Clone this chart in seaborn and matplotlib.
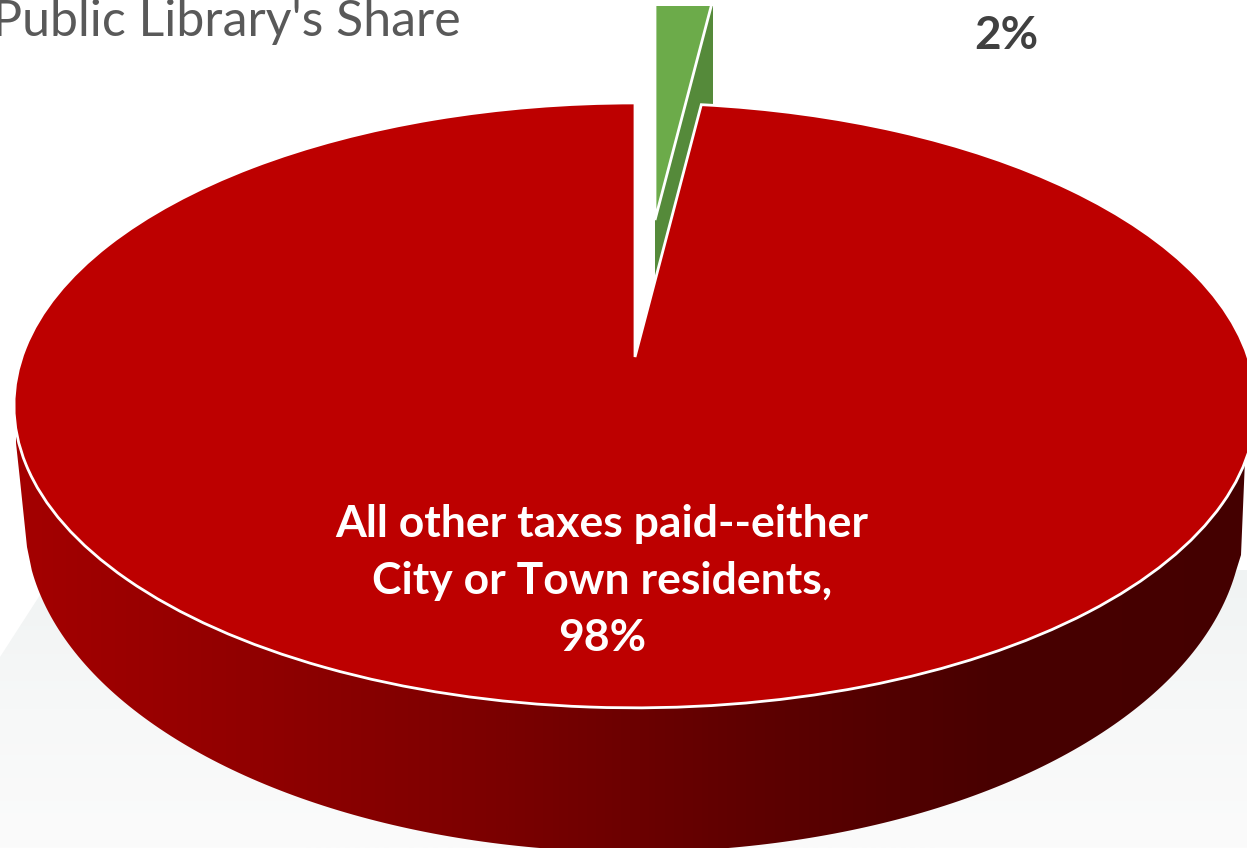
import numpy as np
import matplotlib
matplotlib.use("Agg")
import matplotlib.pyplot as plt
from matplotlib.patches import Polygon, Rectangle
from matplotlib.transforms import Affine2D, Transform
import seaborn as sns

# values
categories = ["Public Library", "All other taxes paid--either\nCity or Town residents,"]
shares = [2, 98]
title = "Public Library's Share"

colors = ["#6cab4a", "#bd0000"]
dark_green = "#558a3a"
wall_colors = ["#a40000", "#900000", "#7a0000", "#5e0000", "#480000", "#440000"]
floor_colors = ["#f0f3f3", "#f7f8f8", "#fbfbfb"]


class Tilt(Transform):
    # unit circle of the pie -> picture pixels, with the perspective of the disc
    input_dims = 2
    output_dims = 2
    is_separable = False
    has_inverse = False

    def transform_non_affine(self, values):
        values = np.asarray(values, dtype=float)
        u, v = values[:, 0], values[:, 1]
        w = 1 + 0.16 * v
        return np.column_stack([635 + 613 * u / w, 357 - 294.7 * v / w])


W, H = 1247, 848
tilt = Tilt()
lift = (20, -137)  # how far the small slice is pulled out

sns.set_theme(style="white")
plt.rcParams["font.family"] = ["Lato", "DejaVu Sans"]

fig = plt.figure(figsize=(W / 100, H / 100), dpi=100, facecolor="white")
ax = fig.add_axes([0, 0, 1, 1])

wedges, _ = ax.pie(shares, colors=colors, startangle=90, counterclock=False,
                   wedgeprops={"edgecolor": "white", "linewidth": 2})

ax.set_aspect("auto")
ax.set_xticks([])
ax.set_yticks([])
ax.set_frame_on(False)

# pale floor behind the disc
floor_cmap = sns.blend_palette(floor_colors, as_cmap=True)
floor = ax.imshow(np.linspace(0, 1, 256).reshape(-1, 1), cmap=floor_cmap, aspect="auto",
                  extent=(0, W, H, 570), zorder=0)
ax.set_xlim(0, W)
ax.set_ylim(H, 0)
floor.set_clip_path(Polygon([(40, 595), (0, 657), (0, H), (W, H), (W, 565), (1225, 565)],
                            transform=ax.transData))

# side wall of the disc, darker to the right
t = np.linspace(np.pi - 0.15, 0.15, 200)
outline = np.column_stack([634 + 609 * np.cos(t), 521 + 331 * np.sin(t)])
outline = np.vstack([[(16, 405), (16, 443), (20, 480), (27, 547)], outline,
                     [(1241, 555), (1245, 460), (1245, 405)]])
wall_cmap = sns.blend_palette(wall_colors, as_cmap=True)
wall = ax.imshow(np.linspace(0, 1, 512).reshape(1, -1), cmap=wall_cmap, aspect="auto",
                 extent=(14, W, H, 400), zorder=1)
wall.set_clip_path(Polygon(outline, transform=ax.transData))
ax.set_xlim(0, W)
ax.set_ylim(H, 0)

# cut face of the pulled out slice
angle = np.deg2rad(shares[0] / sum(shares) * 360)
inner, rim = tilt.transform(np.array([[0, 0], [np.sin(angle), np.cos(angle)]])) + lift
depth = 135
face = Polygon([inner, rim, rim + (0, depth), inner + (0, depth)], closed=True,
               facecolor=dark_green, edgecolor="none", zorder=2)
ax.add_patch(face)
slice_box = Rectangle((654, 6), 59, 320, transform=ax.transData)
face.set_clip_path(slice_box)

# top faces
wedges[0].set_transform(tilt + Affine2D().translate(*lift) + ax.transData)
wedges[0].set_zorder(3)
wedges[0].set_clip_on(True)
wedges[0].set_clip_path(slice_box)

wedges[1].set_transform(tilt + ax.transData)
wedges[1].set_zorder(4)

ax.text(602, 581, f"{categories[1]}\n{shares[1]}%", color="white", fontweight="bold",
        fontsize=32, ha="center", va="center", linespacing=1.52, zorder=5)
ax.text(1006, 36, f"{shares[0]}%", color="#404040", fontweight="bold",
        fontsize=33, ha="center", va="center", zorder=5)
ax.text(-8, 36, title, color="#595959", fontsize=36, ha="left", va="baseline", zorder=5)

fig.savefig("out.png", dpi=100)
